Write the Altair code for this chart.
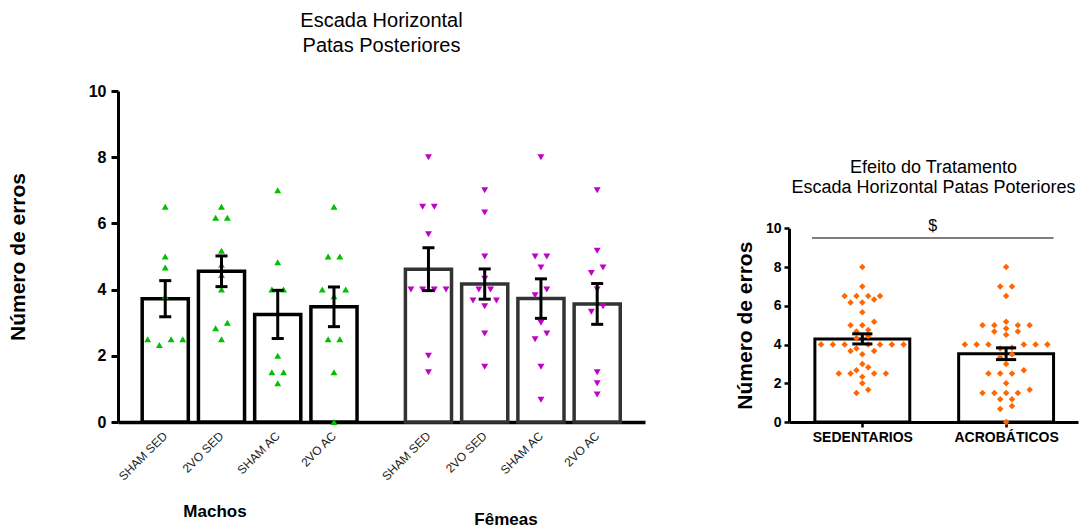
import json
import numpy as np
import pandas as pd
import altair as alt

FONT = "Liberation Sans"

# Experimental groups and sexes
grupos = ["SHAM SED", "2VO SED", "SHAM AC", "2VO AC"]
sexos = ["Machos", "Fêmeas"]
tratamentos = ["SEDENTARIOS", "ACROBÁTICOS"]

# Number of errors (hind paws) per animal
machos_sham_sed = [6.5, 5.0, 4.67, 3.8, 2.5, 2.5, 2.5, 2.33]
machos_2vo_sed = [6.5, 6.17, 6.17, 5.17, 4.75, 4.44, 4.0, 3.0, 2.83, 2.5]
machos_sham_ac = [7.0, 4.83, 4.0, 4.0, 2.0, 1.5, 1.5, 1.17]
machos_2vo_ac = [6.5, 5.0, 5.0, 4.0, 4.0, 3.8, 2.5, 2.5, 1.5, 0.0]
femeas_sham_sed = [8.0, 6.5, 6.5, 5.67, 4.0, 4.0, 4.0, 4.0, 2.0, 1.5]
femeas_2vo_sed = [7.0, 6.33, 5.0, 4.33, 4.0, 4.0, 3.67, 3.67, 3.5, 2.67, 1.67]
femeas_sham_ac = [8.0, 5.0, 5.0, 4.67, 4.0, 3.83, 3.0, 2.67, 2.5, 1.67, 0.67]
femeas_2vo_ac = [7.0, 5.17, 4.67, 4.5, 4.0, 3.5, 3.33, 1.5, 1.17, 0.83]

erros = {
    ("Machos", "SHAM SED"): machos_sham_sed,
    ("Machos", "2VO SED"): machos_2vo_sed,
    ("Machos", "SHAM AC"): machos_sham_ac,
    ("Machos", "2VO AC"): machos_2vo_ac,
    ("Fêmeas", "SHAM SED"): femeas_sham_sed,
    ("Fêmeas", "2VO SED"): femeas_2vo_sed,
    ("Fêmeas", "SHAM AC"): femeas_sham_ac,
    ("Fêmeas", "2VO AC"): femeas_2vo_ac,
}
tratamento_de = {"SHAM SED": "SEDENTARIOS", "2VO SED": "SEDENTARIOS",
                 "SHAM AC": "ACROBÁTICOS", "2VO AC": "ACROBÁTICOS"}

# layout constants (data units of each x scale)
GROUP_GAP = 0.68
L_BAR, L_CAP, L_DOT = 0.41, 0.107, 0.208
R_BAR, R_CAP, R_DOT = 0.33, 0.07, 0.082


def swarm_slots(values, gap=0.21):
    """Horizontal slot for each point: near-equal values are spread side by side."""
    values = list(values)
    order = sorted(range(len(values)), key=lambda i: values[i])
    slots = [0.0] * len(values)

    def place(cluster):
        n = len(cluster)
        if n % 2:
            seq, k = [0.0], 1.0
        else:
            seq, k = [], 0.5
        while len(seq) < n:
            seq += [-k, k]
            k += 1
        for idx, s in zip(cluster, seq):
            slots[idx] = s

    cluster = []
    for i in order:
        if cluster and values[i] - values[cluster[0]] <= gap:
            cluster.append(i)
        else:
            if cluster:
                place(cluster)
            cluster = [i]
    if cluster:
        place(cluster)
    return slots


# ---- left panel table
rows = []
for si, sexo in enumerate(sexos):
    for gi, grupo in enumerate(grupos):
        vals = erros[(sexo, grupo)]
        pos = gi + si * (len(grupos) + GROUP_GAP)
        for v, s in zip(vals, swarm_slots(vals)):
            rows.append({"sexo": sexo, "grupo": grupo, "pos": pos, "valor": v, "slot": s})
left_df = pd.DataFrame(rows)

# ---- right panel table (sexes pooled by treatment)
rrows = []
for ti, trat in enumerate(tratamentos):
    vals = []
    for sexo in sexos:
        for grupo in grupos:
            if tratamento_de[grupo] == trat:
                vals += erros[(sexo, grupo)]
    for v, s in zip(vals, swarm_slots(vals)):
        rrows.append({"trat": trat, "pos": ti, "valor": v, "slot": s})
right_df = pd.DataFrame(rrows)

# ================= left panel =================
LW, LH = 527, 331
sx_l = alt.Scale(domain=[-0.84, 8.53], nice=False, zero=False)
sy_l = alt.Scale(domain=[0, 10], nice=False)
ax_xl = alt.Axis(title=None, labels=False, ticks=False, grid=False,
                 domainWidth=3.5, domainColor="black")
ax_yl = alt.Axis(title="Número de erros", values=[0, 2, 4, 6, 8, 10], grid=False,
                 domainWidth=3, domainColor="black", tickWidth=3, tickColor="black",
                 tickSize=7, labelFontSize=16, labelFontWeight="bold", labelColor="black",
                 labelPadding=5, labelFont=FONT, titleFont=FONT, titleFontSize=21,
                 titleFontWeight="bold", titleColor="black", titlePadding=60, format="d")


def XL(f):
    return alt.X(f, scale=sx_l, axis=ax_xl)


def YL(f):
    return alt.Y(f, scale=sy_l, axis=ax_yl)


base_l = alt.Chart(left_df)
stats_l = base_l.transform_aggregate(
    media="mean(valor)", dp="stdev(valor)", n="count()", groupby=["sexo", "grupo", "pos"]
).transform_calculate(
    lo="datum.media - datum.dp / sqrt(datum.n)",
    hi="datum.media + datum.dp / sqrt(datum.n)",
    xa=f"datum.pos - {L_BAR}", xb=f"datum.pos + {L_BAR}",
    ca=f"datum.pos - {L_CAP}", cb=f"datum.pos + {L_CAP}",
)

bars_l = stats_l.mark_rect(fill="white", strokeWidth=3.5).encode(
    x=XL("xa:Q"), x2="xb:Q", y=YL("media:Q"), y2=alt.datum(0),
    stroke=alt.Stroke("sexo:N", scale=alt.Scale(domain=sexos, range=["#000000", "#333333"]),
                      legend=None),
)
pts_l = base_l.transform_calculate(px=f"datum.pos + datum.slot * {L_DOT}").mark_point(
    filled=True, size=48, opacity=1
).encode(
    x=XL("px:Q"), y=YL("valor:Q"),
    color=alt.Color("sexo:N", scale=alt.Scale(domain=sexos, range=["#00c000", "#c000c8"]),
                    legend=None),
    shape=alt.Shape("sexo:N", scale=alt.Scale(domain=sexos,
                                              range=["triangle-up", "triangle-down"]),
                    legend=None),
)
stem_l = stats_l.mark_rule(color="black", strokeWidth=3).encode(
    x=XL("pos:Q"), y=YL("lo:Q"), y2="hi:Q")
caplo_l = stats_l.mark_rule(color="black", strokeWidth=3).encode(
    x=XL("ca:Q"), x2="cb:Q", y=YL("lo:Q"))
caphi_l = stats_l.mark_rule(color="black", strokeWidth=3).encode(
    x=XL("ca:Q"), x2="cb:Q", y=YL("hi:Q"))
lab_l = stats_l.mark_text(angle=315, align="right", baseline="middle", fontSize=12,
                          font=FONT, color="#222222").encode(
    x=XL("pos:Q"), y=alt.value(LH + 12), text="grupo:N")


def txt(t, x, y, size, weight="normal"):
    return alt.Chart(pd.DataFrame({"t": [t]})).mark_text(
        fontSize=size, fontWeight=weight, font=FONT, color="black",
        align="center", baseline="middle"
    ).encode(x=alt.value(x), y=alt.value(y), text="t:N")


left = alt.layer(
    bars_l, pts_l, stem_l, caplo_l, caphi_l, lab_l,
    txt("Machos", 97, LH + 90, 17, "bold"),
    txt("Fêmeas", 388, LH + 98, 17, "bold"),
    txt("Escada Horizontal", LW / 2, -70, 20),
    txt("Patas Posteriores", LW / 2, -45, 20),
).properties(width=LW, height=LH)

# ================= right panel =================
RW, RH = 289, 331
R_TOP = 137.3  # pixel row of value 10 inside the panel
sx_r = alt.Scale(domain=[-0.51, 1.5], nice=False, zero=False)
sy_r = alt.Scale(domain=[0, 10], range=[RH, R_TOP], nice=False)
ax_xr = alt.Axis(title=None, values=[0, 1], grid=False, domainWidth=3, domainColor="black",
                 tickWidth=2.5, tickColor="black", tickSize=5,
                 labelExpr=f"{json.dumps(tratamentos)}[datum.value]",
                 labelFont=FONT, labelFontSize=14, labelFontWeight="bold",
                 labelColor="black", labelPadding=3)
ax_yr = alt.Axis(title="Número de erros", values=[0, 2, 4, 6, 8, 10], grid=False,
                 domainWidth=3, domainColor="black", tickWidth=2.5, tickColor="black",
                 tickSize=5, labelFontSize=14, labelFontWeight="bold", labelColor="black",
                 labelPadding=3, labelFont=FONT, titleFont=FONT, titleFontSize=21,
                 titleFontWeight="bold", titleColor="black", titlePadding=10, format="d")


def XR(f):
    return alt.X(f, scale=sx_r, axis=ax_xr)


def YR(f):
    return alt.Y(f, scale=sy_r, axis=ax_yr)


base_r = alt.Chart(right_df)
stats_r = base_r.transform_aggregate(
    media="mean(valor)", dp="stdev(valor)", n="count()", groupby=["trat", "pos"]
).transform_calculate(
    lo="datum.media - datum.dp / sqrt(datum.n)",
    hi="datum.media + datum.dp / sqrt(datum.n)",
    xa=f"datum.pos - {R_BAR}", xb=f"datum.pos + {R_BAR}",
    ca=f"datum.pos - {R_CAP}", cb=f"datum.pos + {R_CAP}",
)
bars_r = stats_r.mark_rect(fill="white", stroke="black", strokeWidth=3).encode(
    x=XR("xa:Q"), x2="xb:Q", y=YR("media:Q"), y2=alt.datum(0))
pts_r = base_r.transform_calculate(px=f"datum.pos + datum.slot * {R_DOT}").mark_point(
    filled=True, size=42, opacity=1, shape="diamond", color="#ff6600"
).encode(x=XR("px:Q"), y=YR("valor:Q"))
stem_r = stats_r.mark_rule(color="black", strokeWidth=3).encode(
    x=XR("pos:Q"), y=YR("lo:Q"), y2="hi:Q")
caplo_r = stats_r.mark_rule(color="black", strokeWidth=3).encode(
    x=XR("ca:Q"), x2="cb:Q", y=YR("lo:Q"))
caphi_r = stats_r.mark_rule(color="black", strokeWidth=3).encode(
    x=XR("ca:Q"), x2="cb:Q", y=YR("hi:Q"))

sig_df = pd.DataFrame({"xa": [-R_BAR - 0.02], "xb": [1 + R_BAR], "y": [9.5],
                       "ym": [10.1], "s": ["$"]})
sig_df["xm"] = (sig_df["xa"] + sig_df["xb"]) / 2
sig_line = alt.Chart(sig_df).mark_rule(color="black", strokeWidth=1).encode(
    x=XR("xa:Q"), x2="xb:Q", y=YR("y:Q"))
sig_txt = alt.Chart(sig_df).mark_text(fontSize=16, font=FONT, color="black",
                                      baseline="middle").encode(
    x=XR("xm:Q"), y=YR("ym:Q"), text="s:N")

right = alt.layer(
    bars_r, pts_r, stem_r, caplo_r, caphi_r, sig_line, sig_txt,
    txt("Efeito do Tratamento", RW / 2, 77, 18),
    txt("Escada Horizontal Patas Poteriores", RW / 2, 97, 18),
).properties(width=RW, height=RH)

chart = (
    alt.hconcat(left, right, spacing=89)
    .properties(padding={"left": 7, "top": 11, "right": 5, "bottom": 5},
                background="white")
    .configure(font=FONT)
    .configure_view(stroke=None)
)

chart.save("out.html", embed_options={"renderer": "svg", "actions": False})
